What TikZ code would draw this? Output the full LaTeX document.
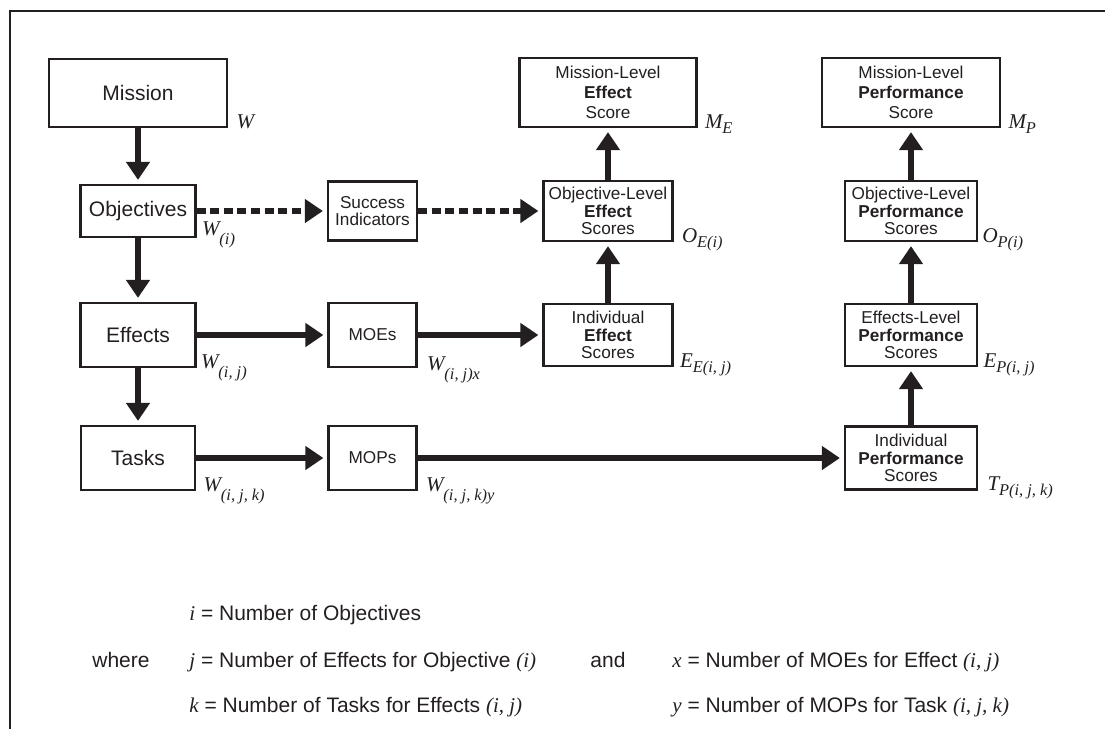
\documentclass[tikz,border=0pt]{standalone}
\usepackage{fontspec}
\setmainfont{Liberation Sans}
\newfontfamily\tms{Liberation Serif}
\usetikzlibrary{arrows.meta}
\definecolor{ink}{HTML}{231F20}
\newcommand{\vr}[1]{{\tms\itshape #1}}
\newcommand{\sublab}[3][2.5pt]{{\tms\itshape #2\raisebox{-#1}{\fontsize{8.2}{8}\selectfont #3}}}

\tikzset{
  mainbox/.style={draw=ink, line width=1.1pt, text=ink, font=\fontsize{10.5}{12}\selectfont, inner sep=0pt},
  smallbox/.style={draw=ink, line width=1.1pt, text=ink, font=\fontsize{8.6}{8.9}\selectfont, align=center, inner sep=0pt},
  toplevel/.style={smallbox, font=\fontsize{8.6}{10}\selectfont},
  wlabel/.style={anchor=base west, inner sep=0pt, text=ink, font=\fontsize{10.5}{12}\selectfont},
  legend/.style={anchor=base west, inner sep=0pt, text=ink, font=\fontsize{10.5}{12}\selectfont},
  flow/.style={draw=ink, line width=3.3pt, -{Triangle[width=11.5pt,length=9pt]}, shorten >=2pt},
  dflow/.style={flow, dash pattern=on 4.5pt off 2.3pt},
}

\begin{document}
\begin{tikzpicture}[x=0.5pt, y=-0.5pt]
\useasboundingbox (0,0) rectangle (1105,729);

% Frame
\draw[ink, line width=1.3pt] (1105,11) -- (10,11) -- (10,729);

% Weights column
\node[mainbox, minimum width=89pt, minimum height=34pt] (mission) at (138,93) {Mission};
\node[mainbox, minimum width=57.5pt, minimum height=26pt] (objectives) at (138,211) {Objectives};
\node[mainbox, minimum width=57.5pt, minimum height=32pt] (effects) at (138,335) {Effects};
\node[mainbox, minimum width=57pt, minimum height=32pt] (tasks) at (138,458) {Tasks};

% Measures
\node[smallbox, minimum width=44.5pt, minimum height=29.5pt] (success) at (372.5,211) {Success\\Indicators};
\node[smallbox, minimum width=44pt, minimum height=32pt] (moes) at (372.5,335) {MOEs};
\node[smallbox, minimum width=44pt, minimum height=32pt] (mops) at (372.5,458) {MOPs};

% Effect scores
\node[toplevel, minimum width=88.5pt, minimum height=34.5pt] (meffect) at (608,92.5) {Mission-Level\\\textbf{Effect}\\Score};
\node[smallbox, minimum width=64.5pt, minimum height=30pt] (oeffect) at (608,211) {Objective-Level\\\textbf{Effect}\\Scores};
\node[smallbox, minimum width=64.5pt, minimum height=31pt] (ieffect) at (608,335) {Individual\\\textbf{Effect}\\Scores};

% Performance scores
\node[toplevel, minimum width=89pt, minimum height=34.5pt] (mperf) at (911,92.5) {Mission-Level\\\textbf{Performance}\\Score};
\node[smallbox, minimum width=66pt, minimum height=30pt] (operf) at (911,211) {Objective-Level\\\textbf{Performance}\\Scores};
\node[smallbox, minimum width=66pt, minimum height=31pt] (eperf) at (911,335) {Effects-Level\\\textbf{Performance}\\Scores};
\node[smallbox, minimum width=66pt, minimum height=31.5pt] (iperf) at (911,458) {Individual\\\textbf{Performance}\\Scores};

% Labels
\node[wlabel] (wmission) at ([xshift=4pt]mission.south east) {\vr{W}};
\node[wlabel] (wobj) at ([xshift=2.5pt,yshift=1.5pt]objectives.south east) {\sublab[4.5pt]{W}{(i)}};
\node[wlabel] (weff) at ([xshift=2pt]effects.south east) {\sublab[4.5pt]{W}{(i, j)}};
\node[wlabel] (wmoe) at ([xshift=4.5pt,yshift=-1pt]moes.south east) {\sublab[4.5pt]{W}{(i, j)x}};
\node[wlabel] (wtask) at ([xshift=3.5pt]tasks.south east) {\sublab[4.5pt]{W}{(i, j, k)}};
\node[wlabel] (wmop) at ([xshift=4pt]mops.south east) {\sublab[4.5pt]{W}{(i, j, k)y}};
\node[wlabel] (lme) at ([xshift=3.5pt]meffect.south east) {\sublab{M}{E}};
\node[wlabel] (loe) at ([xshift=4pt]oeffect.south east) {\sublab{O}{E(i)}};
\node[wlabel] (lee) at ([xshift=3pt]ieffect.south east) {\sublab{E}{E(i, j)}};
\node[wlabel] (lmp) at ([xshift=3.5pt]mperf.south east) {\sublab{M}{P}};
\node[wlabel] (lop) at ([xshift=2pt]operf.south east) {\sublab{O}{P(i)}};
\node[wlabel] (lep) at ([xshift=2.5pt]eperf.south east) {\sublab{E}{P(i, j)}};
\node[wlabel] (ltp) at ([xshift=4.5pt]iperf.south east) {\sublab{T}{P(i, j, k)}};

% Arrows
\draw[flow] (mission) -- (objectives);
\draw[flow] (objectives) -- (effects);
\draw[flow] (effects) -- (tasks);
\draw[dflow] (objectives) -- (success);
\draw[dflow] (success) -- (oeffect);
\draw[flow] (effects) -- (moes);
\draw[flow] (moes) -- (ieffect);
\draw[flow] (tasks) -- (mops);
\draw[flow] (mops) -- (iperf);
\draw[flow] (ieffect) -- (oeffect);
\draw[flow] (oeffect) -- (meffect);
\draw[flow] (iperf) -- (eperf);
\draw[flow] (eperf) -- (operf);
\draw[flow] (operf) -- (mperf);

% Legend
\node[legend] (li) at (189,620) {\vr{i} = Number of Objectives};
\node[legend] (where) at (92,667) {where};
\node[legend] (lj) at (189,667) {\vr{j} = Number of Effects for Objective \vr{(i)}};
\node[legend] (lk) at (189,712) {\vr{k} = Number of Tasks for Effects \vr{(i, j)}};
\node[legend] (and) at (590,667) {and};
\node[legend] (lx) at (672,667) {\vr{x} = Number of MOEs for Effect \vr{(i, j)}};
\node[legend] (ly) at (672,712) {\vr{y} = Number of MOPs for Task \vr{(i, j, k)}};

\end{tikzpicture}
\end{document}
